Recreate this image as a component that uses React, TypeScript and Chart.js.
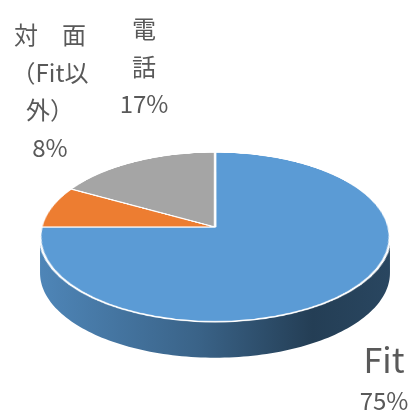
import React, { useEffect, useRef } from "react";
import { Chart, registerables } from "chart.js";

Chart.register(...registerables);

// ---- data ----
const categories = ["Fit", "対面（Fit以外）", "電話"];
const values = [75, 8, 17];
const percentLabels = ["75%", "8%", "17%"];
const nameLines = [["Fit"], ["対\u3000面", "（Fit以", "外）"], ["電", "話"]];
const colors = ["#5B9BD5", "#ED7D31", "#A5A5A5"];

// ---- styling / 3D projection ----
const TILT = 0.481; // vertical squash of the disc (relative to radius)
const PERSP = 0.1176; // perspective strength
const DEPTH = 36; // thickness of the disc in px
const FONT = "'Noto Sans CJK JP', 'Noto Sans', sans-serif";
const FONT_WEIGHT = 400;
const TEXT_COLOR = "#595959";
const labelLayout = [
  { x: 384, y: 360, nameSize: 34, pctSize: 24, lineGap: 41 },
  { x: 50, y: 35, nameSize: 24, pctSize: 24, lineGap: 37.6 },
  { x: 144, y: 29, nameSize: 24, pctSize: 24, lineGap: 37.6 },
];

function shade(hex: string, f: number): string {
  const n = parseInt(hex.slice(1), 16);
  const r = Math.round(((n >> 16) & 255) * f);
  const g = Math.round(((n >> 8) & 255) * f);
  const b = Math.round((n & 255) * f);
  return `rgb(${r},${g},${b})`;
}

// project a point of the flat disc (u right, v toward viewer, in radius units)
function project(cx: number, cy: number, R: number, u: number, v: number) {
  const w = 1 - PERSP * v;
  return { X: cx + (R * u) / w, Y: cy + (R * TILT * v) / w };
}

const pie3d = {
  id: "pie3d",
  afterDatasetsDraw(chart: any) {
    const meta = chart.getDatasetMeta(0);
    const arcs = meta.data;
    if (!arcs.length) return;
    const { x: cx, y: cy, outerRadius: R } = arcs[0];
    const canvas: HTMLCanvasElement = chart.canvas;
    const ctx: CanvasRenderingContext2D = chart.ctx;
    const W = canvas.width;
    const H = canvas.height;

    // copy the flat pie drawn by Chart.js, then clear
    const off = document.createElement("canvas");
    off.width = W;
    off.height = H;
    off.getContext("2d")!.drawImage(canvas, 0, 0);
    ctx.save();
    ctx.setTransform(1, 0, 0, 1, 0, 0);
    ctx.clearRect(0, 0, W, H);
    ctx.restore();

    // side walls, visible between the two silhouette extremes
    const t1 = Math.asin(PERSP);
    const t2 = Math.PI - t1;
    arcs.forEach((arc: any, i: number) => {
      const s = Math.max(arc.startAngle, t1);
      const e = Math.min(arc.endAngle, t2);
      if (e <= s) return;
      const base = colors[i];
      const g = ctx.createLinearGradient(cx - R, 0, cx + R, 0);
      g.addColorStop(0, shade(base, 0.86));
      g.addColorStop(0.45, shade(base, 0.64));
      g.addColorStop(0.78, shade(base, 0.4));
      g.addColorStop(1, shade(base, 0.45));
      const N = 120;
      ctx.save();
      ctx.beginPath();
      for (let k = 0; k <= N; k++) {
        const t = s + ((e - s) * k) / N;
        const p = project(cx, cy, R, Math.cos(t), Math.sin(t));
        if (k === 0) ctx.moveTo(p.X, p.Y);
        else ctx.lineTo(p.X, p.Y);
      }
      for (let k = N; k >= 0; k--) {
        const t = s + ((e - s) * k) / N;
        const p = project(cx, cy, R, Math.cos(t), Math.sin(t));
        ctx.lineTo(p.X, p.Y + DEPTH);
      }
      ctx.closePath();
      ctx.fillStyle = g;
      ctx.fill();
      ctx.restore();
    });

    // top face: re-project the flat pie row by row in perspective
    const a = R * TILT;
    const yTop = Math.floor(cy - a / (1 + PERSP)) - 2;
    const yBot = Math.ceil(cy + a / (1 - PERSP)) + 2;
    const vAt = (Y: number) => (Y - cy) / (a + PERSP * (Y - cy));
    ctx.save();
    ctx.setTransform(1, 0, 0, 1, 0, 0);
    ctx.imageSmoothingEnabled = true;
    for (let y = yTop; y < yBot; y++) {
      const v0 = vAt(y);
      const v1 = vAt(y + 1);
      const vm = (v0 + v1) / 2;
      const sy0 = cy + v0 * R;
      const sy1 = cy + v1 * R;
      const sc = 1 / (1 - PERSP * vm);
      const sy0c = Math.max(0, sy0);
      const sy1c = Math.min(H, sy1);
      if (sy1c <= sy0c) continue;
      ctx.drawImage(off, 0, sy0c, W, sy1c - sy0c, cx - cx * sc, y, W * sc, 1);
    }
    ctx.restore();
  },
  afterDraw(chart: any) {
    const ctx: CanvasRenderingContext2D = chart.ctx;
    ctx.save();
    ctx.fillStyle = TEXT_COLOR;
    ctx.textAlign = "center";
    ctx.textBaseline = "middle";
    nameLines.forEach((lines, i) => {
      const L = labelLayout[i];
      let y = L.y;
      ctx.font = `${FONT_WEIGHT} ${L.nameSize}px ${FONT}`;
      lines.forEach((t) => {
        ctx.fillText(t, L.x, y);
        y += L.lineGap;
      });
      ctx.font = `${FONT_WEIGHT} ${L.pctSize}px ${FONT}`;
      ctx.fillText(percentLabels[i], L.x, y);
    });
    ctx.restore();
  },
};

export default function App() {
  const ref = useRef<HTMLCanvasElement | null>(null);
  useEffect(() => {
    if (!ref.current) return;
    const chart = new Chart(ref.current, {
      type: "pie",
      data: {
        labels: categories,
        datasets: [
          {
            data: values,
            backgroundColor: colors,
            borderColor: "#ffffff",
            borderWidth: 2.5,
            clip: false as any,
          },
        ],
      },
      options: {
        responsive: false,
        animation: false,
        events: [],
        layout: { padding: { left: 40, right: 19, top: 52, bottom: 10 } },
        plugins: {
          legend: { display: false },
          tooltip: { enabled: false },
          title: { display: false },
        },
      },
      plugins: [pie3d],
    });
    return () => chart.destroy();
  }, []);
  return (
    <div style={{ position: "absolute", left: 0, top: 0, width: 409, height: 412, background: "#fff" }}>
      <canvas ref={ref} width={409} height={412} style={{ display: "block", width: 409, height: 412 }} />
    </div>
  );
}
